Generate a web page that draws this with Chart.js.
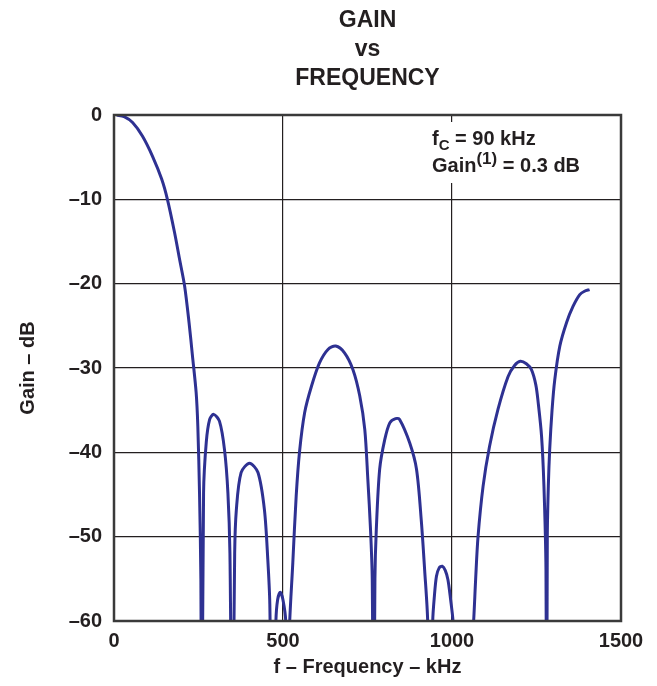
<!DOCTYPE html>
<html>
<head>
<meta charset="utf-8">
<script src="https://cdn.jsdelivr.net/npm/chart.js@4/dist/chart.umd.min.js"></script>
<style>
  body { margin: 0; background: #fff; }
</style>
</head>
<body>
<canvas id="gainChart" width="657" height="686"></canvas>
<script>
// data (nulls pushed below -60 so the plot clips them)
const titleLines = ['GAIN', 'vs', 'FREQUENCY'];
const freq = [
  8, 30, 55, 84, 114, 141, 158, 179, 194, 209, 222, 232, 243, 248, 253, 257, 260,
  265, 273, 283, 295, 312, 327, 337, 343, 350,
  357, 362, 376, 401, 426, 445, 455, 461, 468,
  479, 484, 492, 500, 508, 513,
  518, 529, 539, 549, 564, 584, 608, 633, 656, 682, 707, 727, 742, 751, 759, 764, 768,
  772, 776, 786, 801, 816, 833, 845, 875, 895, 909, 919, 928, 936,
  943, 948, 954, 962, 971, 980, 988, 996, 1003, 1033,
  1064, 1070, 1077, 1092, 1111, 1136, 1166, 1185, 1202, 1220, 1235, 1248, 1255, 1265, 1272, 1278, 1280,
  1282, 1285, 1289, 1296, 1304, 1319, 1339, 1358, 1378, 1392, 1407
];
const gain = [
  0, -0.2, -0.9, -2.5, -4.9, -7.6, -10, -13.9, -17.1, -20.3, -24.6, -28.5, -32.9, -36.9, -44.8, -55, -80,
  -44.8, -38.8, -36.1, -35.5, -36.3, -39.7, -44.8, -52, -80,
  -52, -46.8, -42.4, -41.3, -42.4, -46.8, -52.7, -58, -80,
  -60, -57.5, -56.6, -57.5, -60, -80,
  -62, -53.1, -45.2, -39.9, -35.3, -32.2, -29.4, -27.8, -27.4, -28.2, -30.2, -33.3, -37.3, -43.2, -49.2, -55, -80,
  -55, -49.2, -42, -38.5, -36.5, -36.0, -36.1, -38.9, -42, -48, -53.9, -60, -80,
  -60, -57, -54.7, -53.7, -53.5, -54, -55.1, -57.5, -60, -80,
  -60, -55, -50, -44, -39.3, -34.9, -31, -29.7, -29.2, -29.5, -30.2, -32, -34.1, -38.1, -44, -53.9, -80,
  -50, -44, -39.7, -35, -31.4, -27.4, -24.6, -22.7, -21.3, -20.9, -20.7
];
const xTicks = [0, 500, 1000, 1500];
const yTicks = [0, -10, -20, -30, -40, -50, -60];
const yTickLabels = ['0', '–10', '–20', '–30', '–40', '–50', '–60'];

const ink = '#231f20';
const boldFont = (size) => ({ family: 'Liberation Sans, Arial, sans-serif', size: size, weight: 'bold' });

const points = freq.map((f, i) => ({ x: f, y: gain[i] }));

// title + frame + note box
const decorations = {
  id: 'decorations',
  beforeDatasetsDraw(chart) {
    const ctx = chart.ctx;
    ctx.save();
    // white box behind the note, hides the grid line
    ctx.fillStyle = '#fff';
    ctx.fillRect(426, 122, 172, 61);
    ctx.fillStyle = ink;
    ctx.textBaseline = 'alphabetic';
    ctx.textAlign = 'left';
    let x = 432;
    ctx.font = 'bold 20px Liberation Sans, Arial, sans-serif';
    ctx.fillText('f', x, 145);
    x += ctx.measureText('f').width;
    ctx.font = 'bold 15px Liberation Sans, Arial, sans-serif';
    ctx.fillText('C', x, 150);
    x += ctx.measureText('C').width;
    ctx.font = 'bold 20px Liberation Sans, Arial, sans-serif';
    ctx.fillText(' = 90 kHz', x, 145);
    x = 432;
    ctx.fillText('Gain', x, 171.5);
    x += ctx.measureText('Gain').width;
    ctx.font = 'bold 17px Liberation Sans, Arial, sans-serif';
    ctx.fillText('(1)', x, 164);
    x += ctx.measureText('(1)').width;
    ctx.font = 'bold 20px Liberation Sans, Arial, sans-serif';
    ctx.fillText(' = 0.3 dB', x, 171.5);
    ctx.restore();
  },
  afterDraw(chart) {
    const ctx = chart.ctx;
    const a = chart.chartArea;
    ctx.save();
    ctx.strokeStyle = '#3a3a3a';
    ctx.lineWidth = 2.5;
    ctx.strokeRect(a.left, a.top, a.right - a.left, a.bottom - a.top);
    ctx.fillStyle = ink;
    ctx.textAlign = 'center';
    ctx.textBaseline = 'middle';
    ctx.font = 'bold 23px Liberation Sans, Arial, sans-serif';
    const cx = (a.left + a.right) / 2;
    const ys = [21, 50, 79];
    titleLines.forEach((t, i) => ctx.fillText(t, cx, ys[i]));
    ctx.restore();
  }
};

const chartEl = document.getElementById('gainChart');
const gainChart = new Chart(chartEl, {
  type: 'line',
  data: {
    datasets: [{
      data: points,
      borderColor: '#2e3192',
      borderWidth: 3,
      pointRadius: 0,
      tension: 0.3,
      fill: false
    }]
  },
  options: {
    responsive: false,
    animation: false,
    devicePixelRatio: 1,
    layout: { padding: { top: 115, right: 36, left: 0, bottom: 0 } },
    plugins: { legend: { display: false }, tooltip: { enabled: false } },
    scales: {
      x: {
        type: 'linear',
        min: 0,
        max: 1500,
        afterBuildTicks: (s) => { s.ticks = xTicks.map(v => ({ value: v })); },
        afterFit: (s) => { s.height = 65; },
        grid: { color: ink, lineWidth: 1.2, drawTicks: false },
        border: { display: false },
        ticks: { color: ink, font: boldFont(20), padding: 8, maxRotation: 0, callback: (v) => String(v) },
        title: { display: true, text: 'f – Frequency – kHz', color: ink, font: boldFont(20), padding: { top: 0, bottom: 7 } }
      },
      y: {
        min: -60,
        max: 0,
        afterBuildTicks: (s) => { s.ticks = yTicks.map(v => ({ value: v })); },
        afterFit: (s) => { s.width = 114; },
        grid: { color: ink, lineWidth: 1.2, drawTicks: false },
        border: { display: false },
        ticks: {
          color: ink, font: boldFont(20), padding: 12,
          callback: (v) => yTickLabels[yTicks.indexOf(v)]
        },
        title: { display: true, text: 'Gain – dB', color: ink, font: boldFont(20), padding: { top: 16, bottom: 0 } }
      }
    }
  },
  plugins: [decorations]
});
</script>
</body>
</html>
